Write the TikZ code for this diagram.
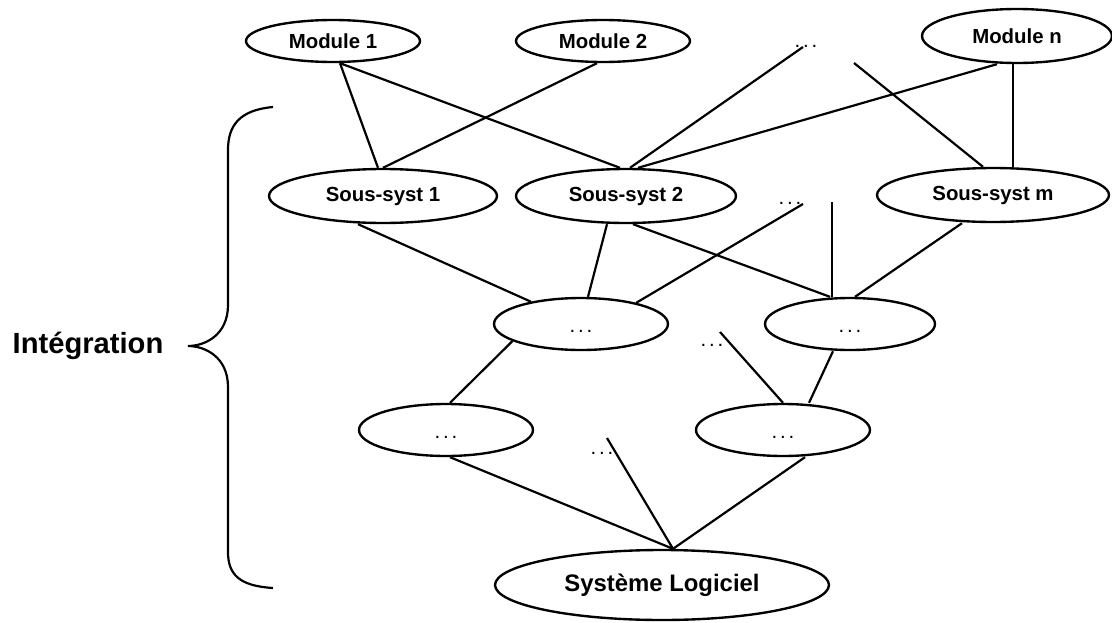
\documentclass[tikz,border=0pt]{standalone}
\usepackage{fontspec}
\setmainfont{Liberation Sans}
\usetikzlibrary{calc,shapes.geometric}

\newcommand\pointill{.\kern1.6pt.\kern1.6pt.}

\tikzset{
  bulle/.style={draw,ellipse,line width=1.35pt,inner sep=0pt,
    font=\fontsize{11.6}{14}\selectfont\bfseries},
  lien/.style={line width=1.25pt},
  pts/.style={inner sep=0pt,font=\fontsize{11.6}{14}\selectfont}
}

\begin{document}
\begin{tikzpicture}[x=0.02cm,y=-0.02cm]
\useasboundingbox (0,0) rectangle (1112,622);

% modules
\node at (333,41) (m1)[bulle,minimum width=3.48cm,minimum height=0.84cm] {Module 1};
\node at (603,41) (m2)[bulle,minimum width=3.48cm,minimum height=0.84cm] {Module 2};
\node at (806,46) (p1)[pts] {\pointill};
\node at (1017,36) (mn)[bulle,minimum width=3.8cm,minimum height=1.08cm] {Module n};

% sous-systemes
\node at (383,196) (s1)[bulle,minimum width=4.56cm,minimum height=1.08cm] {Sous-syst 1};
\node at (626,196) (s2)[bulle,minimum width=4.4cm,minimum height=1.08cm] {Sous-syst 2};
\node at (790,203) (p2)[pts] {\pointill};
\node at (993,195) (sm)[bulle,minimum width=4.64cm,minimum height=1.08cm] {Sous-syst m};

% niveaux intermediaires
\node at (581,324) (e1)[bulle,minimum width=3.48cm,minimum height=1.04cm] {\mdseries\rule{0pt}{10pt}\pointill};
\node at (850,324) (e2)[bulle,minimum width=3.4cm,minimum height=1.04cm] {\mdseries\rule{0pt}{10pt}\pointill};
\node at (712,345) (p3)[pts] {\pointill};
\node at (446,430) (e3)[bulle,minimum width=3.48cm,minimum height=1.04cm] {\mdseries\rule{0pt}{10pt}\pointill};
\node at (783,430) (e4)[bulle,minimum width=3.48cm,minimum height=1.04cm] {\mdseries\rule{0pt}{10pt}\pointill};
\node at (602,453) (p4)[pts] {\pointill};

% systeme
\node at (662,585) (sys)[bulle,minimum width=6.68cm,minimum height=1.4cm,
  font=\fontsize{13.6}{16}\selectfont\bfseries] {Système Logiciel};

% bouts libres
\coordinate (t1) at (803,47);
\coordinate (t2) at (854,63);
\coordinate (u1) at (803,204);
\coordinate (u2) at (832,202);
\coordinate (v1) at (720,332);
\coordinate (w1) at (607,438);

% modules -> sous-systemes
\draw[lien] ($(m1.south)+(7,0)$) -- ($(s1.north)+(-5,0)$);
\draw[lien] ($(m1.south)+(7,0)$) -- ($(s2.north)+(-6,0)$);
\draw[lien] ($(m2.south)+(-6,0)$) -- (s1.north);
\draw[lien] ($(s2.north)+(4,0)$) -- (t1);
\draw[lien] ($(s2.north)+(12,0)$) -- ($(mn.south)+(-20,0)$);
\draw[lien] (t2) -- ($(sm.north)+(-10,0)$);
\draw[lien] ($(mn.south)+(-4,0)$) -- ($(sm.north)+(20,0)$);

% sous-systemes -> niveau 2
\draw[lien] ($(s1.south)+(-25,0)$) -- (e1.156);
\draw[lien] ($(s2.south)+(-19,0)$) -- ($(e1.north)+(7,0)$);
\draw[lien] ($(s2.south)+(7,0)$) -- ($(e2.north)+(-20,0)$);
\draw[lien] (e1.21) -- (u1);
\draw[lien] (u2) -- ($(e2.north)+(-18,0)$);
\draw[lien] ($(sm.south)+(-31,0)$) -- ($(e2.north)+(5,0)$);

% niveau 2 -> niveau 3
\draw[lien] (e1.194) -- ($(e3.north)+(4,0)$);
\draw[lien] (v1) -- (e4.north);
\draw[lien] ($(e2.south)+(-17,0)$) -- ($(e4.north)+(26,0)$);

% niveau 3 -> systeme
\draw[lien] ($(e3.south)+(4,0)$) -- ($(sys.north)+(11,0)$);
\draw[lien] (w1) -- ($(sys.north)+(11,0)$);
\draw[lien] ($(e4.south)+(22,0)$) -- ($(sys.north)+(11,0)$);

% accolade
\node at (88,346) (integ)[font=\fontsize{16.6}{20}\selectfont\bfseries] {Intégration};
\draw[lien] (273,107) .. controls (240,110) and (228,125) .. (228,150) -- (228,305)
  .. controls (228,335) and (205,346) .. (188,346)
  .. controls (205,346) and (228,357) .. (228,387) -- (228,552)
  .. controls (228,575) and (240,586) .. (273,588);
\end{tikzpicture}
\end{document}
